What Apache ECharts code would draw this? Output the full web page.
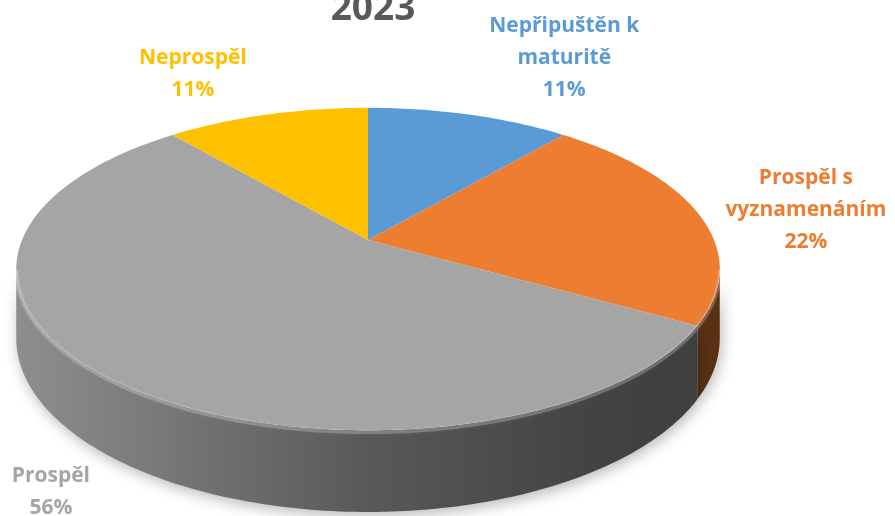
<!DOCTYPE html>
<html>
<head>
<meta charset="utf-8">
<script src="https://cdn.jsdelivr.net/npm/echarts@6/dist/echarts.min.js"></script>
<style>
html, body { margin: 0; padding: 0; background: #fff; }
#main { width: 895px; height: 516px; }
</style>
</head>
<body>
<div id="main"></div>
<script>
// data (counts giving 11 / 22 / 56 / 11 %)
var categories = ['Nepřipuštěn k maturitě', 'Prospěl s vyznamenáním', 'Prospěl', 'Neprospěl'];
var values = [1, 2, 5, 1];
var colors = ['#5B9BD5', '#ED7D31', '#A5A5A5', '#FFC000'];
var titleText = '2023';

// tilted pie, simple perspective projection
var CX = 368, CY = 240;      // centre of the top face on screen
var A = 346, B = 156;        // horizontal / vertical radius
var K = 0.18;                // perspective strength
var DEPTH = 67;              // wall thickness
var VIS0 = Math.acos(-K) * 180 / Math.PI;   // visible part of the wall
var VIS1 = 360 - VIS0;
var W = 895, H = 516;
var LABEL_FONT = 'bold 21px "Open Sans"';
var LINE_H = 32;

var total = values.reduce(function (s, v) { return s + v; }, 0);
var starts = [];
var acc = 0;
for (var i = 0; i < values.length; i++) {
	starts.push(acc / total * 360);
	acc += values[i];
}

function proj(deg, drop) {
	var t = deg * Math.PI / 180;
	var u = Math.sin(t), v = Math.cos(t);
	var w = 1 + K * v;
	return [CX + A * u / w, CY - B * v / w + (drop || 0) / w];
}

function arc(a0, a1, drop) {
	var n = Math.max(2, Math.ceil(a1 - a0));
	var pts = [];
	for (var j = 0; j <= n; j++) {
		pts.push(proj(a0 + (a1 - a0) * j / n, drop));
	}
	return pts;
}

function shade(hex, f) {
	var r = parseInt(hex.substr(1, 2), 16), g = parseInt(hex.substr(3, 2), 16), b = parseInt(hex.substr(5, 2), 16);
	return 'rgb(' + Math.round(r * f) + ',' + Math.round(g * f) + ',' + Math.round(b * f) + ')';
}

function wallFill(hex) {
	var left = proj(VIS1, 0)[0], right = proj(VIS0, 0)[0];
	return {
		type: 'linear', global: true,
		x: left, y: 0, x2: right, y2: 0,
		colorStops: [
			{ offset: 0, color: shade(hex, 0.86) },
			{ offset: 0.5, color: shade(hex, 0.54) },
			{ offset: 0.83, color: shade(hex, 0.40) },
			{ offset: 1, color: shade(hex, 0.38) }
		]
	};
}

var measureCtx = document.createElement('canvas').getContext('2d');
measureCtx.font = LABEL_FONT;

function wrap(text, maxW) {
	var words = text.split(' ');
	var lines = [];
	var cur = '';
	words.forEach(function (wd) {
		var test = cur ? cur + ' ' + wd : wd;
		if (cur && measureCtx.measureText(test).width > maxW) {
			lines.push(cur);
			cur = wd;
		} else {
			cur = test;
		}
	});
	if (cur) lines.push(cur);
	return lines;
}

function renderItem(params, api) {
	var idx = params.dataIndex;
	var val = api.value(1);
	var a0 = starts[idx];
	var a1 = a0 + val / total * 360;
	var color = colors[idx];
	var children = [];

	// front wall
	var v0 = Math.max(a0, VIS0), v1 = Math.min(a1, VIS1);
	if (v1 > v0) {
		var topEdge = arc(v0, v1, 0);
		var botEdge = arc(v0, v1, DEPTH).reverse();
		children.push({
			type: 'polygon',
			z2: 1,
			shape: { points: topEdge.concat(botEdge) },
			style: {
				fill: wallFill(color),
				shadowBlur: 14,
				shadowColor: 'rgba(0,0,0,0.28)',
				shadowOffsetX: 2,
				shadowOffsetY: 4
			}
		});
		// bevel highlight on the rim
		children.push({
			type: 'polyline',
			z2: 12,
			shape: { points: arc(v0, v1, 1.5) },
			style: {
				stroke: 'rgba(255,255,255,0.22)', lineWidth: 4, fill: null,
				shadowBlur: 4, shadowColor: 'rgba(255,255,255,0.3)'
			}
		});
	}

	// top face
	children.push({
		type: 'polygon',
		z2: 10,
		shape: { points: [[CX, CY]].concat(arc(a0, a1, 0)) },
		style: { fill: color }
	});

	// data label
	var mid = (a0 + a1) / 2;
	var t = mid * Math.PI / 180;
	var u = Math.sin(t), v = Math.cos(t);
	var anchor = v > 0 ? proj(mid, 0) : proj(mid, DEPTH);
	var pct = Math.round(val / total * 100) + '%';
	var lines = wrap(categories[api.value(0)], 165).concat([pct]);
	var bw = 0;
	lines.forEach(function (l) { bw = Math.max(bw, measureCtx.measureText(l).width); });
	var bh = lines.length * LINE_H;
	var gap = Math.abs(v) < 0.5 ? 27 : 20;
	var lx, ly;
	if (u > 0.2) lx = anchor[0] + gap + bw / 2;
	else if (u < -0.2) lx = anchor[0] - gap - bw / 2;
	else lx = anchor[0];
	if (v > 0.5) ly = anchor[1] - 9 - bh / 2;
	else if (v < -0.5) ly = anchor[1] + 5 + bh / 2;
	else ly = anchor[1] - 4;
	lx = Math.min(Math.max(lx, bw / 2), W - bw / 2);
	ly = Math.min(Math.max(ly, bh / 2), H + 8 - bh / 2);
	children.push({
		type: 'text',
		z2: 20,
		style: {
			text: lines.join('\n'),
			x: lx,
			y: ly,
			fill: color,
			font: LABEL_FONT,
			lineHeight: LINE_H,
			align: 'center',
			verticalAlign: 'middle'
		}
	});

	return { type: 'group', children: children };
}

var chart = echarts.init(document.getElementById('main'));
chart.setOption({
	backgroundColor: '#fff',
	animation: false,
	title: {
		text: titleText,
		left: CX,
		top: -14,
		textAlign: 'center',
		textStyle: {
			color: '#595959',
			fontSize: 37,
			fontWeight: 'bold',
			fontFamily: 'Open Sans'
		}
	},
	series: [{
		type: 'custom',
		coordinateSystem: 'none',
		renderItem: renderItem,
		data: values.map(function (v, k) { return [k, v]; })
	}]
});
</script>
</body>
</html>
